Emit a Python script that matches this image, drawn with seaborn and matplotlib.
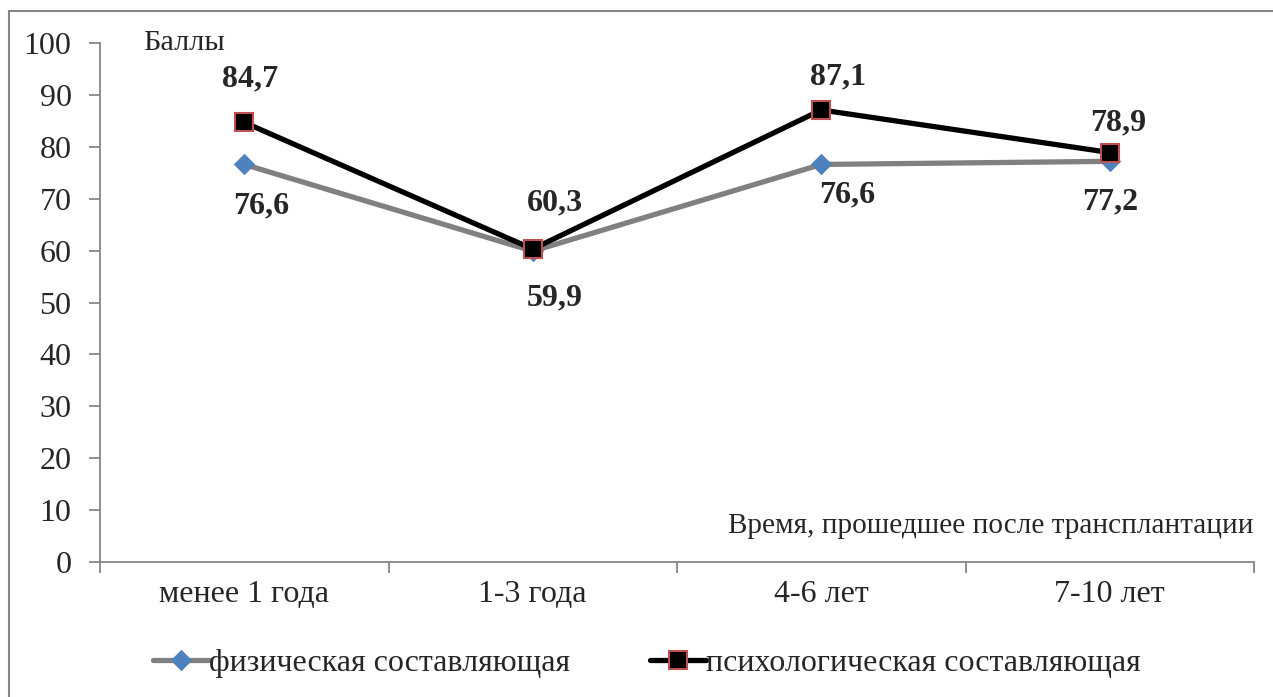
import matplotlib
matplotlib.use("Agg")
import matplotlib.pyplot as plt
import numpy as np
import pandas as pd
import seaborn as sns
from matplotlib.patches import Rectangle

# --- data ---
periods = ["менее 1 года", "1-3 года", "4-6 лет", "7-10 лет"]
physical = [76.6, 59.9, 76.6, 77.2]
psycho = [84.7, 60.3, 87.1, 78.9]
series_names = ["физическая составляющая", "психологическая составляющая"]
y_ticks = list(range(0, 101, 10))

# label offsets in points (dx, dy) -- placement only
phys_offsets = [(12, -30), (16, -34), (19, -22), (0, -29)]
psych_offsets = [(4, 31), (16, 33), (12, 24), (6, 21)]

sns.set_theme(style="white")
plt.rcParams["font.family"] = ["Liberation Serif", "DejaVu Serif"]
FS = 23
GRAY = "#868686"

df = pd.DataFrame({
    "period": periods * 2,
    "value": physical + psycho,
    "series": [series_names[0]] * 4 + [series_names[1]] * 4,
})

fig = plt.figure(figsize=(12.73, 6.97), dpi=100)
ax = fig.add_axes([100 / 1273, 135 / 697, 1154 / 1273, 519 / 697])

sns.lineplot(data=df[df.series == series_names[0]], x="period", y="value",
             color="#808080", lw=3.8, marker="D", markersize=10.5,
             markerfacecolor="#4F81BD", markeredgecolor="#4F81BD",
             label=series_names[0], ax=ax, sort=False)
sns.lineplot(data=df[df.series == series_names[1]], x="period", y="value",
             color="black", lw=3.8, marker="s", markersize=13.5,
             markerfacecolor="black", markeredgecolor="#C0504D",
             markeredgewidth=1.5, label=series_names[1], ax=ax, sort=False)

# data labels
for i, (v, off) in enumerate(zip(physical, phys_offsets)):
    ax.annotate(f"{v:.1f}".replace(".", ","), (i, v), xytext=off,
                textcoords="offset points", ha="center", va="center",
                fontsize=FS, fontweight="bold")
for i, (v, off) in enumerate(zip(psycho, psych_offsets)):
    ax.annotate(f"{v:.1f}".replace(".", ","), (i, v), xytext=off,
                textcoords="offset points", ha="center", va="center",
                fontsize=FS, fontweight="bold")

ax.set_xlim(-0.5, len(periods) - 0.5)
ax.set_ylim(0, 100)
ax.set_yticks(y_ticks)
ax.set_yticklabels([str(t) for t in y_ticks], fontsize=FS)
ax.set_xticks(np.arange(len(periods) + 1) - 0.5)
ax.set_xticklabels([""] * (len(periods) + 1))
ax.set_xticks(range(len(periods)), labels=periods, minor=True, fontsize=FS)
ax.tick_params(axis="x", which="major", direction="out", length=8,
               width=1.3, color=GRAY, bottom=True)
ax.tick_params(axis="x", which="minor", length=0, pad=13)
ax.tick_params(axis="y", direction="out", length=8, width=1.3,
               color=GRAY, pad=12.5, left=True)
ax.set_xlabel("")
ax.set_ylabel("")
for side in ["top", "right"]:
    ax.spines[side].set_visible(False)
for side in ["left", "bottom"]:
    ax.spines[side].set_color(GRAY)
    ax.spines[side].set_linewidth(1.3)

ax.text(0.037, 1.0, "Баллы", transform=ax.transAxes, ha="left",
        va="center", fontsize=FS * 0.95)
ax.text(1.0, 0.07, "Время, прошедшее после трансплантации",
        transform=ax.transAxes, ha="right", va="center", fontsize=FS * 0.915)

ax.legend(loc="center", bbox_to_anchor=(647 / 1273, 1 - 663 / 697),
          bbox_transform=fig.transFigure, ncol=2, frameon=False,
          fontsize=FS, handlelength=1.75, handletextpad=0.0,
          columnspacing=2.5)

# outer chart frame
fig.patches.append(Rectangle((9 / 1273, -0.05), 1.1, 1.05 - 11 / 697,
                             transform=fig.transFigure, fill=False,
                             edgecolor=GRAY, lw=1.5))

fig.savefig("out.png", dpi=100)
